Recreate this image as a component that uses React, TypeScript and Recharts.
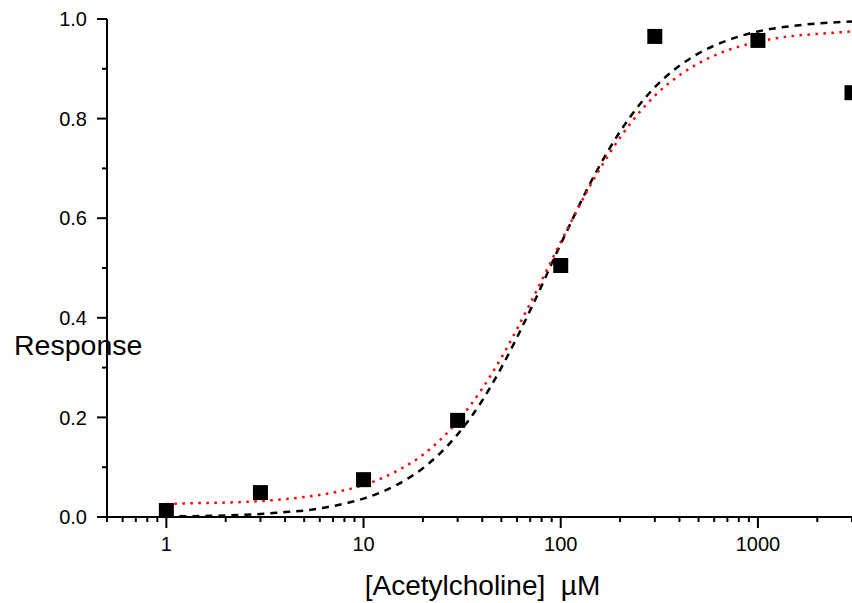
import React from "react";
import { ComposedChart, Line, Scatter, XAxis, YAxis } from "recharts";

// measured responses
const doseConc = [1, 3, 10, 30, 100, 300, 1000, 3000];
const doseResp = [0.013, 0.049, 0.075, 0.194, 0.505, 0.965, 0.957, 0.852];

// fitted curves
const curveConc = [1, 1.5, 2, 3, 4, 5, 7, 10, 15, 20, 30, 40, 50, 70, 100, 150, 200, 300, 400, 500, 700, 1000, 1500, 2000, 3000];
const fitDashed = [0.001, 0.002, 0.003, 0.006, 0.01, 0.013, 0.022, 0.037, 0.066, 0.098, 0.166, 0.234, 0.3, 0.415, 0.548, 0.69, 0.774, 0.863, 0.906, 0.931, 0.957, 0.975, 0.986, 0.991, 0.995];
const fitDotted = [0.026, 0.028, 0.029, 0.032, 0.036, 0.04, 0.049, 0.064, 0.094, 0.125, 0.192, 0.258, 0.32, 0.429, 0.552, 0.684, 0.762, 0.846, 0.887, 0.911, 0.937, 0.954, 0.966, 0.97, 0.975];

const xMajorTicks = [1, 10, 100, 1000];
const xTicks = [0.5, 0.6, 0.7, 0.8, 0.9, 1, 2, 3, 4, 5, 6, 7, 8, 9, 10, 20, 30, 40, 50, 60, 70, 80, 90, 100, 200, 300, 400, 500, 600, 700, 800, 900, 1000, 2000, 3000];
const yTicks = [0, 0.1, 0.2, 0.3, 0.4, 0.5, 0.6, 0.7, 0.8, 0.9, 1.0];

const points = doseConc.map((x, i) => ({ x, y: doseResp[i] }));
const dashedData = curveConc.map((x, i) => ({ x, y: fitDashed[i] }));
const dottedData = curveConc.map((x, i) => ({ x, y: fitDotted[i] }));

const FONT = "'Liberation Sans', Arial, sans-serif";

function XTick({ x, y, payload }: any) {
  const major = xMajorTicks.includes(payload.value);
  return (
    <g>
      <line x1={x} y1={y} x2={x} y2={y + (major ? 11 : 5)} stroke="#000" strokeWidth={2} />
      {major && (
        <text x={x} y={y + 20} dy="0.71em" textAnchor="middle" fontSize={20} fontFamily={FONT} fill="#000">
          {payload.value}
        </text>
      )}
    </g>
  );
}

function YTick({ x, y, payload }: any) {
  const major = Math.round(payload.value * 10) % 2 === 0;
  return (
    <g>
      <line x1={x} y1={y} x2={x - (major ? 10 : 5)} y2={y} stroke="#000" strokeWidth={2} />
      {major && (
        <text x={x - 20} y={y} dy="0.355em" textAnchor="end" fontSize={20} fontFamily={FONT} fill="#000">
          {payload.value.toFixed(1)}
        </text>
      )}
    </g>
  );
}

const Square = ({ cx, cy }: any) => <rect x={cx - 7.5} y={cy - 7.5} width={15} height={15} fill="#000" />;

export default function App() {
  return (
    <div style={{ position: "absolute", left: 0, top: 0, background: "#fff" }}>
      <ComposedChart width={852} height={603} margin={{ top: 19, right: 0, bottom: 0, left: 0 }}>
        <XAxis
          dataKey="x"
          type="number"
          scale="log"
          domain={[0.5, 3000]}
          ticks={xTicks}
          interval={0}
          height={86}
          tickSize={0}
          tickMargin={0}
          tickLine={false}
          axisLine={{ stroke: "#000", strokeWidth: 2 }}
          tick={<XTick />}
          label={(p: any) => (
            <text
              x={p.viewBox.x + p.viewBox.width / 2 + 3}
              y={p.viewBox.y + 78}
              textAnchor="middle"
              fontSize={28}
              fontFamily={FONT}
              fill="#000"
              style={{ whiteSpace: "pre" }}
            >
              {"[Acetylcholine]  µM"}
            </text>
          )}
        />
        <YAxis
          dataKey="y"
          type="number"
          domain={[0, 1]}
          ticks={yTicks}
          interval={0}
          width={107}
          tickSize={0}
          tickMargin={0}
          tickLine={false}
          axisLine={{ stroke: "#000", strokeWidth: 2 }}
          tick={<YTick />}
          label={(p: any) => (
            <text x={p.viewBox.x + 14} y={p.viewBox.y + 336} fontSize={28.5} fontFamily={FONT} fill="#000">
              Response
            </text>
          )}
        />
        <Scatter data={points} dataKey="y" shape={<Square />} isAnimationActive={false} />
        <Line
          data={dashedData}
          dataKey="y"
          type="monotone"
          stroke="#000"
          strokeWidth={2.5}
          strokeDasharray="7 6"
          dot={false}
          activeDot={false}
          isAnimationActive={false}
        />
        <Line
          data={dottedData}
          dataKey="y"
          type="monotone"
          stroke="#ff0000"
          strokeWidth={2.5}
          strokeDasharray="2.5 5.5"
          dot={false}
          activeDot={false}
          isAnimationActive={false}
        />
      </ComposedChart>
    </div>
  );
}
